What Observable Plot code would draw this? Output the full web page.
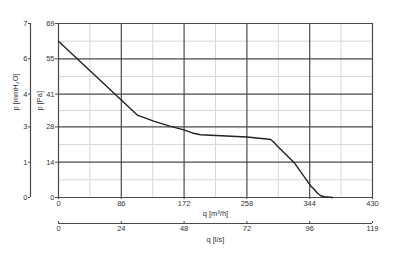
<!DOCTYPE html>
<html>
<head>
<meta charset="utf-8">
<script src="https://cdn.jsdelivr.net/npm/d3@7"></script>
<script src="https://cdn.jsdelivr.net/npm/@observablehq/plot@0.6"></script>
<style>
  html, body { margin: 0; padding: 0; background: #fff; }
  svg { display: block; }
</style>
</head>
<body>
<div id="chart"></div>
<script>
// Airflow q [m³/h] and pressure p [Pa]
const qValues = [0, 107.9, 131.3, 153.5, 171.8, 183.2, 194.6, 258, 288.3, 290.6, 295.2, 299.9, 322.5, 345.4, 350, 354.7, 359.2, 363.7, 375.2];
const pValues = [62.0, 32.7, 30.2, 28.2, 26.8, 25.6, 24.9, 24.0, 23.1, 23.0, 21.8, 20.3, 13.9, 4.6, 3.3, 1.7, 0.7, 0.3, 0];

const xTicks = [0, 86, 172, 258, 344, 430];
const xMinor = [43, 129, 215, 301, 387];
const yTicks = [0, 14, 28, 41, 55, 69];
const yMinor = [7, 21, 34.5, 48, 62];
const mmLabels = ["0", "1", "3", "4", "6", "7"];
const lsLabels = ["0", "24", "48", "72", "96", "119"];

const labelQm3 = "q [m³/h]";
const labelLs = "q [l/s]";
const labelPa = "p [Pa]";
const labelMm = "p [mmH₂O]";

const data = qValues.map((q, i) => ({q, p: pValues[i]}));

const fs = 7.5;
const dark = "#4a4a4a";
const txt = "#333";

const chart = Plot.plot({
  width: 400,
  height: 264,
  marginLeft: 58,
  marginRight: 28,
  marginTop: 23,
  marginBottom: 67,
  style: {fontFamily: "Liberation Sans, Arial, sans-serif", fontSize: fs + "px", color: txt, background: "#fff"},
  x: {domain: [0, 430]},
  y: {domain: [0, 69]},
  marks: [
    Plot.gridX(xMinor, {stroke: "#d8d8d8", strokeOpacity: 1}),
    Plot.gridY(yMinor, {stroke: "#d8d8d8", strokeOpacity: 1}),
    Plot.gridX(xTicks, {stroke: dark, strokeOpacity: 1, strokeWidth: 1.2}),
    Plot.gridY(yTicks, {stroke: dark, strokeOpacity: 1, strokeWidth: 1.2}),
    // main axes
    Plot.axisX(xTicks, {tickSize: 2, tickPadding: 1, stroke: dark, fill: txt, fontSize: fs, label: null}),
    Plot.axisY(yTicks, {tickSize: 3, tickPadding: 1, stroke: dark, fill: txt, fontSize: fs, label: null}),
    // secondary left axis (mmH2O)
    Plot.ruleX([0], {dx: -28, stroke: dark, strokeWidth: 1.2}),
    Plot.axisY(yTicks, {dx: -28, tickSize: 2, tickPadding: 1, stroke: dark, fill: txt, fontSize: fs, tickFormat: (d, i) => mmLabels[i], label: null}),
    // secondary bottom axis (l/s)
    Plot.ruleY([0], {dy: 26, stroke: dark, strokeWidth: 1.2}),
    Plot.axisX(xTicks, {dy: 26, tickSize: -2, fill: "none", stroke: dark, label: null}),
    Plot.axisX(xTicks, {dy: 26, tickSize: 0, tickPadding: 2.5, fill: txt, fontSize: fs, tickFormat: (d, i) => lsLabels[i], label: null}),
    // axis labels
    Plot.text([labelQm3], {frameAnchor: "bottom", dy: 18, fill: txt, fontSize: fs}),
    Plot.text([labelLs], {frameAnchor: "bottom", dy: 44.5, fill: txt, fontSize: fs}),
    Plot.text([labelPa], {frameAnchor: "left", dx: -18.5, rotate: -90, fill: txt, fontSize: fs}),
    Plot.text([labelMm], {frameAnchor: "left", dx: -43, rotate: -90, fill: txt, fontSize: fs}),
    // curve
    Plot.line(data, {x: "q", y: "p", stroke: "#222", strokeWidth: 1.4})
  ]
});
document.getElementById("chart").appendChild(chart);
</script>
</body>
</html>
